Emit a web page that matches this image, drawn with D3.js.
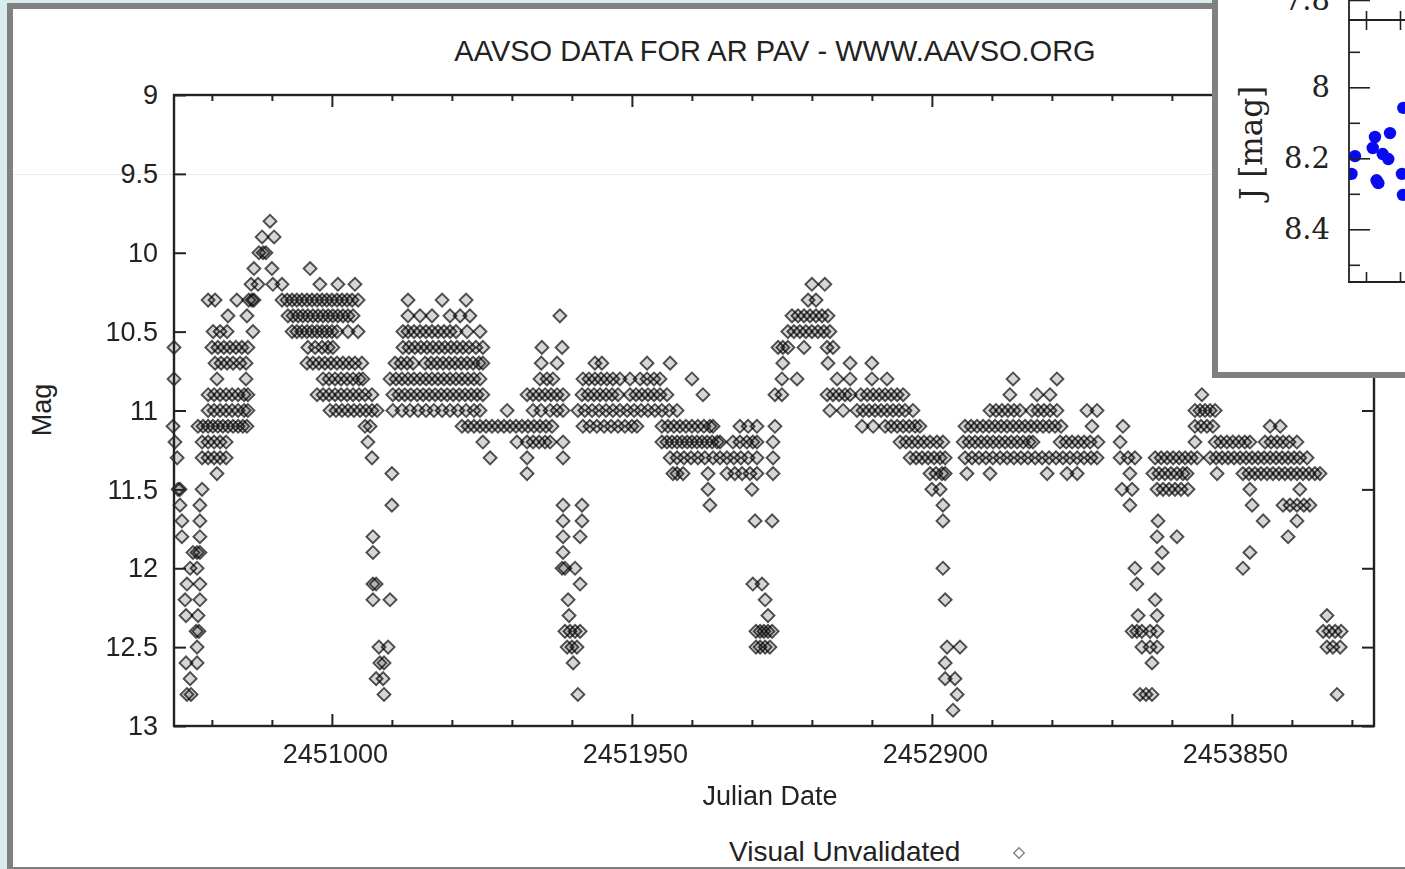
<!DOCTYPE html>
<html><head><meta charset="utf-8">
<script src="https://cdn.jsdelivr.net/npm/d3@7"></script>
<style>
html,body{margin:0;padding:0;background:#d8ebee;overflow:hidden}
svg{display:block}
</style></head>
<body><svg id="chart" width="1405" height="869"></svg>
<script>
// ---------- DATA (JD = JD0 + t), each row: [magnitude, t, t, ...] ----------
const JD0 = 2450000;
const season1 = [
  [9.8, 804],
  [9.9, 779, 817],
  [10.0, 769, 782, 791],
  [10.1, 753, 810, 931],
  [10.2, 744, 766, 813, 842, 962, 1019, 1073],
  [10.3, 608, 630, 699, 737, 747, 753, 842, 858, 874, 889, 905, 921, 937, 953, 969, 984, 1000, 1016, 1032, 1048, 1064, 1083],
  [10.4, 671, 731, 861, 877, 893, 908, 924, 940, 956, 972, 988, 1003, 1019, 1035, 1051, 1067],
  [10.5, 624, 646, 668, 750, 874, 889, 905, 921, 937, 953, 969, 984, 1000, 1016, 1051, 1083],
  [10.6, 500, 620, 639, 658, 677, 696, 715, 734, 924, 947, 969, 988, 1003],
  [10.7, 630, 649, 668, 687, 709, 728, 921, 940, 959, 978, 997, 1016, 1035, 1054, 1073, 1095],
  [10.8, 500, 636, 728, 972, 991, 1010, 1029, 1048, 1067, 1086, 1098],
  [10.9, 608, 627, 646, 665, 684, 703, 722, 734, 953, 972, 991, 1010, 1029, 1048, 1067, 1086, 1105, 1127],
  [11.0, 608, 627, 646, 665, 684, 703, 722, 734, 994, 1013, 1032, 1051, 1070, 1089, 1108, 1127, 1143],
  [11.1, 497, 576, 592, 608, 623, 639, 655, 671, 687, 703, 718, 731, 1105, 1121],
  [11.2, 503, 589, 608, 627, 646, 665, 1114],
  [11.3, 510, 589, 608, 627, 646, 665, 1127],
  [11.4, 636, 1190],
  [11.5, 513, 519, 589],
  [11.6, 519, 582, 1190],
  [11.7, 525, 582],
  [11.8, 525, 582, 1130],
  [11.9, 560, 573, 582, 1130],
  [12.0, 551, 573],
  [12.1, 541, 582, 1130, 1140],
  [12.2, 535, 582, 1130, 1184],
  [12.3, 538, 576],
  [12.4, 570, 579],
  [12.5, 573, 1149, 1178],
  [12.6, 538, 573, 1152, 1165],
  [12.7, 551, 1140, 1162],
  [12.8, 541, 554, 1165]
];
const season2 = [
  [10.3, 1241, 1349, 1425],
  [10.4, 1241, 1279, 1317, 1374, 1406, 1437, 1722],
  [10.5, 1225, 1241, 1260, 1279, 1298, 1317, 1336, 1355, 1374, 1393, 1428, 1469],
  [10.6, 1225, 1244, 1263, 1282, 1301, 1320, 1339, 1358, 1377, 1396, 1415, 1434, 1456, 1478, 1665, 1729],
  [10.7, 1200, 1219, 1238, 1257, 1295, 1314, 1333, 1352, 1371, 1390, 1409, 1428, 1447, 1466, 1478, 1663, 1713],
  [10.8, 1184, 1203, 1222, 1241, 1260, 1279, 1298, 1317, 1336, 1355, 1374, 1393, 1412, 1431, 1450, 1469, 1659, 1681, 1700],
  [10.9, 1193, 1212, 1231, 1250, 1270, 1289, 1308, 1327, 1346, 1365, 1384, 1403, 1422, 1441, 1460, 1478, 1618, 1637, 1656, 1675, 1694, 1713, 1732],
  [11.0, 1193, 1222, 1247, 1273, 1298, 1323, 1349, 1374, 1399, 1425, 1450, 1469, 1555, 1637, 1662, 1691, 1713, 1732],
  [11.1, 1412, 1431, 1450, 1469, 1488, 1507, 1526, 1545, 1564, 1583, 1602, 1621, 1640, 1659, 1678, 1697],
  [11.2, 1478, 1586, 1618, 1637, 1656, 1675, 1691, 1732],
  [11.3, 1501, 1618, 1732],
  [11.4, 1618],
  [11.6, 1732, 1792],
  [11.7, 1732, 1792],
  [11.8, 1732, 1786],
  [11.9, 1732],
  [12.0, 1729, 1738, 1770],
  [12.1, 1786],
  [12.2, 1748],
  [12.3, 1751],
  [12.4, 1738, 1754, 1770, 1786],
  [12.5, 1745, 1760, 1776],
  [12.6, 1764],
  [12.8, 1779]
];
const season3 = [
  [10.7, 1833, 1855, 1998, 2071],
  [10.8, 1795, 1814, 1833, 1852, 1871, 1890, 1912, 1944, 1976, 1998, 2020, 2039, 2140],
  [10.9, 1792, 1811, 1830, 1849, 1868, 1887, 1906, 1944, 1963, 1982, 2001, 2020, 2039, 2061, 2175],
  [11.0, 1779, 1801, 1824, 1846, 1868, 1890, 1912, 1935, 1957, 1979, 2001, 2023, 2045, 2068, 2093],
  [11.1, 1795, 1817, 1839, 1862, 1884, 1906, 1928, 1950, 1966, 2045, 2064, 2083, 2102, 2121, 2140, 2159, 2178, 2197, 2207, 2292, 2318, 2346],
  [11.2, 2045, 2061, 2077, 2093, 2109, 2125, 2140, 2156, 2172, 2188, 2204, 2220, 2229, 2270, 2292, 2314, 2333, 2346],
  [11.3, 2071, 2093, 2115, 2137, 2159, 2181, 2207, 2229, 2251, 2273, 2295, 2318, 2346],
  [11.4, 2080, 2093, 2112, 2191, 2251, 2276, 2299, 2324, 2346],
  [11.5, 2191, 2330],
  [11.6, 2197],
  [11.7, 2340, 2394],
  [12.1, 2333, 2362],
  [12.2, 2372],
  [12.3, 2381],
  [12.4, 2343, 2356, 2368, 2381, 2394],
  [12.5, 2343, 2356, 2372, 2387]
];
const season4 = [
  [10.2, 2520, 2561],
  [10.3, 2508, 2533],
  [10.4, 2457, 2476, 2495, 2514, 2533, 2552, 2571],
  [10.5, 2444, 2463, 2482, 2501, 2520, 2539, 2558, 2577],
  [10.6, 2413, 2428, 2444, 2495, 2568, 2587],
  [10.7, 2428, 2571, 2641, 2710],
  [10.8, 2425, 2473, 2600, 2641, 2710, 2758],
  [10.9, 2403, 2425, 2568, 2587, 2606, 2625, 2641, 2675, 2695, 2714, 2733, 2752, 2771, 2790, 2809],
  [11.0, 2577, 2619, 2663, 2682, 2701, 2720, 2739, 2758, 2777, 2796, 2815, 2840],
  [11.1, 2403, 2679, 2714, 2752, 2771, 2790, 2809, 2828, 2847, 2862],
  [11.2, 2397, 2799, 2818, 2837, 2856, 2875, 2894, 2916, 2935],
  [11.3, 2397, 2831, 2850, 2869, 2888, 2907, 2926, 2942],
  [11.4, 2397, 2894, 2913, 2932, 2942],
  [11.5, 2900, 2926],
  [11.6, 2935],
  [11.7, 2935],
  [12.0, 2935],
  [12.2, 2942],
  [12.5, 2948, 2989],
  [12.6, 2942],
  [12.7, 2942, 2973],
  [12.8, 2980],
  [12.9, 2967]
];
const season5 = [
  [10.8, 3157, 3296],
  [10.9, 3147, 3233, 3274],
  [11.0, 3084, 3103, 3122, 3141, 3160, 3179, 3217, 3236, 3255, 3274, 3296, 3391, 3423],
  [11.1, 3005, 3024, 3043, 3062, 3081, 3100, 3119, 3138, 3157, 3176, 3195, 3214, 3233, 3252, 3271, 3290, 3309, 3407, 3505],
  [11.2, 2999, 3018, 3037, 3056, 3075, 3094, 3113, 3132, 3151, 3170, 3189, 3208, 3220, 3306, 3325, 3344, 3363, 3382, 3401, 3426, 3496],
  [11.3, 3005, 3027, 3049, 3071, 3093, 3116, 3138, 3160, 3182, 3204, 3227, 3249, 3271, 3293, 3315, 3337, 3360, 3382, 3404, 3423, 3496, 3521, 3543],
  [11.4, 3011, 3084, 3265, 3328, 3360, 3527],
  [11.5, 3502, 3534],
  [11.6, 3527]
];
const season6 = [
  [10.9, 3755],
  [11.0, 3733, 3749, 3765, 3781, 3797],
  [11.1, 3733, 3752, 3771, 3790, 3971, 4003],
  [11.2, 3733, 3797, 3815, 3834, 3853, 3872, 3891, 3907, 3955, 3974, 3993, 4012, 4031, 4056],
  [11.3, 3607, 3626, 3645, 3664, 3683, 3702, 3721, 3740, 3781, 3800, 3819, 3838, 3857, 3876, 3895, 3914, 3933, 3952, 3971, 3990, 4009, 4028, 4047, 4065, 4088],
  [11.4, 3600, 3619, 3638, 3657, 3676, 3695, 3708, 3803, 3885, 3904, 3923, 3942, 3961, 3980, 3999, 4018, 4037, 4056, 4075, 4094, 4113, 4129],
  [11.5, 3613, 3632, 3651, 3670, 3689, 3711, 3907, 4065],
  [11.6, 3914, 4012, 4034, 4056, 4078, 4097],
  [11.7, 3616, 3949, 4056],
  [11.8, 3613, 3676, 4028],
  [11.9, 3629, 3907],
  [12.0, 3543, 3616, 3885],
  [12.1, 3549],
  [12.2, 3607],
  [12.3, 3553, 3613],
  [12.4, 3534, 3549, 3565, 3591, 3613],
  [12.5, 3565, 3591, 3613],
  [12.6, 3597],
  [12.8, 3559, 3578, 3597]
];
const season7 = [
  [12.3, 4151],
  [12.4, 4139, 4158, 4177, 4196],
  [12.5, 4151, 4170, 4193],
  [12.8, 4183]
];
const seasons = [season1, season2, season3, season4, season5, season6, season7];

const xMajorTicks = [2451000, 2451950, 2452900, 2453850];
const xMinorTicks = [2450620, 2450810, 2451190, 2451380, 2451570, 2451760, 2452140, 2452330,
                     2452520, 2452710, 2453090, 2453280, 2453470, 2453660, 2454040, 2454230];
const yTicks = [9, 9.5, 10, 10.5, 11, 11.5, 12, 12.5, 13];
const yTickLabels = ["9", "9.5", "10", "10.5", "11", "11.5", "12", "12.5", "13"];

const titleText = "AAVSO DATA FOR AR PAV - WWW.AAVSO.ORG";
const xLabel = "Julian Date";
const yLabel = "Mag";
const legendLabel = "Visual Unvalidated";

// inset (cropped panel of a J-band light curve)
const insetX = [0.1049, 0.0853, 0.0632, 0.0599, 0.0746, 0.0828, 0.0338, 0.0287, 0.0681, 0.0655, 0.1029, 0.1044];
const insetJ = [8.058, 8.129, 8.140, 8.171, 8.188, 8.202, 8.194, 8.244, 8.270, 8.262, 8.244, 8.303];
const insetMajorTicks = [8, 8.2, 8.4];
const insetMajorLabels = ["8", "8.2", "8.4"];
const insetMinorTicks = [7.9, 8.1, 8.3, 8.5];
const insetXTicks = [0.05, 0.1];
const insetUpperTickLabel = "7.8";
const insetYLabel = "J [mag]";

// ---------- DRAW ----------
const svg = d3.select("#chart");
const W = 1405, H = 869;
const sans = "'Liberation Sans', Arial, Helvetica, sans-serif";
const serif = "'DejaVu Serif', 'Liberation Serif', serif";

const defs = svg.append("defs");
defs.append("filter").attr("id", "soft").attr("x", "-5%").attr("y", "-5%").attr("width", "110%").attr("height", "110%")
  .append("feGaussianBlur").attr("stdDeviation", 0.45);

// page background + panel
svg.append("rect").attr("x", 0).attr("y", 0).attr("width", W).attr("height", H).attr("fill", "#d8ebee");
svg.append("rect").attr("x", 7).attr("y", 3).attr("width", W).attr("height", H).attr("fill", "#808080");
svg.append("rect").attr("x", 13).attr("y", 9).attr("width", W).attr("height", H - 9 - 2).attr("fill", "#ffffff");
// faint scan line
svg.append("line").attr("x1", 13).attr("x2", 1212).attr("y1", 174.5).attr("y2", 174.5)
  .attr("stroke", "#e3ecee").attr("stroke-width", 1);

const x = d3.scaleLinear().domain([2450500, 2454300]).range([174, 1374]);
const y = d3.scaleLinear().domain([9, 13]).range([95, 726]);

// title
svg.append("text").attr("x", 775).attr("y", 61).attr("text-anchor", "middle")
  .attr("font-family", sans).attr("font-size", 29).attr("fill", "#222").text(titleText);

// points
const pts = [];
seasons.forEach(s => s.forEach(row => {
  const m = row[0];
  for (let i = 1; i < row.length; i++) pts.push({jd: JD0 + row[i], mag: m});
}));
const diamond = d3.symbol().type(d3.symbolSquare).size(84);
svg.append("g").attr("filter", "url(#soft)").selectAll("path").data(pts).join("path")
  .attr("d", diamond)
  .attr("transform", d => `translate(${x(d.jd)},${y(d.mag)}) rotate(45)`)
  .attr("fill", "#000").attr("fill-opacity", 0.16)
  .attr("stroke", "#000").attr("stroke-opacity", 0.68).attr("stroke-width", 1.9);

// axes
const axisColor = "#222";
function styleAxis(g) {
  g.select(".domain").remove();
  g.selectAll(".tick line").attr("stroke", axisColor).attr("stroke-width", 2);
  g.selectAll(".tick text").attr("fill", "#222").attr("font-family", sans).attr("font-size", 27);
}
svg.append("g").attr("transform", `translate(0,726)`)
  .call(d3.axisBottom(x).tickValues(xMajorTicks).tickSizeInner(-12).tickSizeOuter(0).tickPadding(18).tickFormat(d3.format("d")))
  .call(styleAxis).call(g => g.selectAll(".tick text").attr("dx", 3));
svg.append("g").attr("transform", `translate(0,726)`)
  .call(d3.axisBottom(x).tickValues(xMinorTicks).tickSizeInner(-6).tickSizeOuter(0).tickFormat(""))
  .call(styleAxis);
svg.append("g").attr("transform", `translate(0,95)`)
  .call(d3.axisTop(x).tickValues(xMajorTicks).tickSizeInner(-12).tickSizeOuter(0).tickFormat(""))
  .call(styleAxis);
svg.append("g").attr("transform", `translate(0,95)`)
  .call(d3.axisTop(x).tickValues(xMinorTicks).tickSizeInner(-6).tickSizeOuter(0).tickFormat(""))
  .call(styleAxis);
svg.append("g").attr("transform", `translate(174,0)`)
  .call(d3.axisLeft(y).tickValues(yTicks).tickSizeInner(-12).tickSizeOuter(0).tickPadding(16)
    .tickFormat((d, i) => yTickLabels[i]))
  .call(styleAxis);
svg.append("g").attr("transform", `translate(1374,0)`)
  .call(d3.axisRight(y).tickValues(yTicks).tickSizeInner(-12).tickSizeOuter(0).tickFormat(""))
  .call(styleAxis);
// frame
svg.append("rect").attr("x", 174).attr("y", 95).attr("width", 1200).attr("height", 631)
  .attr("fill", "none").attr("stroke", axisColor).attr("stroke-width", 2.4);

// axis labels
svg.append("text").attr("x", 770).attr("y", 805).attr("text-anchor", "middle")
  .attr("font-family", sans).attr("font-size", 27).attr("fill", "#222").text(xLabel);
svg.append("text").attr("transform", "translate(51,410) rotate(-90)").attr("text-anchor", "middle")
  .attr("font-family", sans).attr("font-size", 27).attr("fill", "#222").text(yLabel);

// legend
svg.append("text").attr("x", 729).attr("y", 861)
  .attr("font-family", sans).attr("font-size", 28).attr("fill", "#222").text(legendLabel);
svg.append("path").attr("d", d3.symbol().type(d3.symbolSquare).size(56)())
  .attr("transform", "translate(1019,853) rotate(45)")
  .attr("fill", "none").attr("stroke", "#000").attr("stroke-opacity", 0.5).attr("stroke-width", 1.3);

// ---------- INSET ----------
const inset = svg.append("g");
inset.append("rect").attr("x", 1212).attr("y", -10).attr("width", 300).attr("height", 388).attr("fill", "#808080");
inset.append("rect").attr("x", 1218).attr("y", -10).attr("width", 300).attr("height", 382).attr("fill", "#ffffff");

const ix = d3.scaleLinear().domain([0.05, 0.1]).range([1366, 1400]);
const iy = d3.scaleLinear().domain([8, 8.4]).range([87.3, 229.3]);

defs.append("clipPath").attr("id", "insetClip")
  .append("rect").attr("x", 1349).attr("y", 20).attr("width", 100).attr("height", 262);

inset.append("g").attr("clip-path", "url(#insetClip)")
  .selectAll("circle").data(insetX.map((v, i) => ({p: v, j: insetJ[i]}))).join("circle")
  .attr("cx", d => ix(d.p)).attr("cy", d => iy(d.j)).attr("r", 6.2).attr("fill", "#0a0af0");

const ic = "#222";
function styleInset(g) {
  g.select(".domain").remove();
  g.selectAll(".tick line").attr("stroke", ic).attr("stroke-width", 1.6);
  g.selectAll(".tick text").attr("fill", "#222").attr("font-family", serif).attr("font-size", 29);
}
inset.append("g").attr("transform", "translate(1349,0)")
  .call(d3.axisLeft(iy).tickValues(insetMajorTicks).tickSizeInner(-21).tickSizeOuter(0).tickPadding(19)
    .tickFormat((d, i) => insetMajorLabels[i]))
  .call(styleInset);
inset.append("g").attr("transform", "translate(1349,0)")
  .call(d3.axisLeft(iy).tickValues(insetMinorTicks).tickSizeInner(-11).tickSizeOuter(0).tickFormat(""))
  .call(styleInset);
inset.append("g").attr("transform", "translate(0,282)")
  .call(d3.axisBottom(ix).tickValues(insetXTicks).tickSizeInner(-10).tickSizeOuter(0).tickFormat(""))
  .call(styleInset);
inset.append("g").attr("transform", "translate(0,20)")
  .call(d3.axisBottom(ix).tickValues(insetXTicks).tickSizeInner(10).tickSizeOuter(0).tickFormat(""))
  .call(styleInset);
inset.append("g").attr("transform", "translate(0,20)")
  .call(d3.axisTop(ix).tickValues(insetXTicks).tickSizeInner(9).tickSizeOuter(0).tickFormat(""))
  .call(styleInset);
// panel lines
inset.append("line").attr("x1", 1349).attr("x2", 1349).attr("y1", -2).attr("y2", 282.5).attr("stroke", ic).attr("stroke-width", 1.8);
inset.append("line").attr("x1", 1348).attr("x2", 1410).attr("y1", 282).attr("y2", 282).attr("stroke", ic).attr("stroke-width", 1.8);
inset.append("line").attr("x1", 1348).attr("x2", 1410).attr("y1", 20).attr("y2", 20).attr("stroke", ic).attr("stroke-width", 1.8);
// upper panel tick (cropped at the image top, as in the reference)
inset.append("line").attr("x1", 1349).attr("x2", 1370).attr("y1", 0.5).attr("y2", 0.5).attr("stroke", ic).attr("stroke-width", 1.6);
inset.append("text").attr("x", 1330).attr("y", 10).attr("text-anchor", "end")
  .attr("font-family", serif).attr("font-size", 29).attr("fill", "#222").text(insetUpperTickLabel);
inset.append("text").attr("transform", "translate(1262,143) rotate(-90)").attr("text-anchor", "middle")
  .attr("font-family", serif).attr("font-size", 31).attr("fill", "#222").text(insetYLabel);
</script>
</body></html>
